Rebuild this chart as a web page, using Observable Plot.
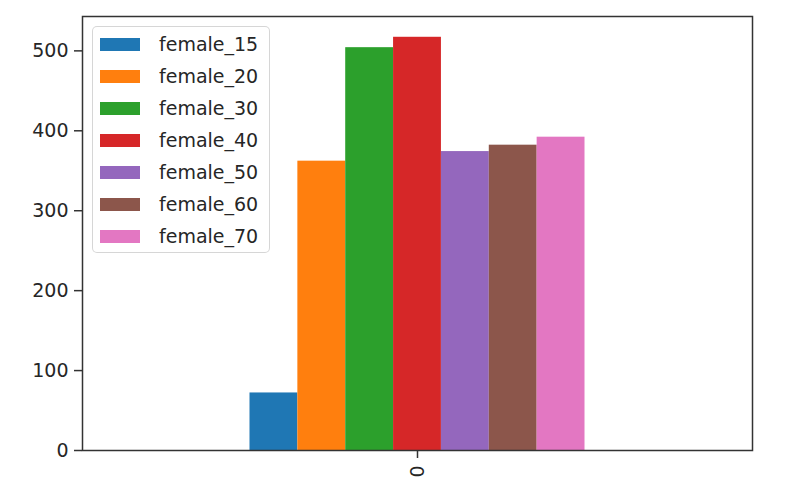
<!DOCTYPE html>
<html>
<head>
<meta charset="utf-8">
<script src="https://cdn.jsdelivr.net/npm/d3@7"></script>
<script src="https://cdn.jsdelivr.net/npm/@observablehq/plot@0.6"></script>
<style>
  html, body { margin: 0; padding: 0; background: #fff; }
  #wrap { position: relative; width: 812px; height: 496px; font-family: "DejaVu Sans", sans-serif; }
  #legend {
    position: absolute; left: 92px; top: 26px; width: 178px; height: 227px;
    border: 1.5px solid rgba(204,204,204,0.8); border-radius: 5px;
    background: rgba(255,255,255,0.8); box-sizing: border-box;
  }
  .row { position: absolute; left: 0; height: 32px; display: flex; align-items: center; }
  .sw { position: absolute; left: 7px; width: 40px; height: 13px; }
  .lab { position: absolute; left: 66px; font-size: 19px; color: #262626; white-space: nowrap; line-height: 1; }
</style>
</head>
<body>
<div id="wrap"></div>
<script>
const categories = ["female_15", "female_20", "female_30", "female_40", "female_50", "female_60", "female_70"];
const values = [72, 362, 504, 517, 374, 382, 392];
const colors = ["#1f77b4", "#ff7f0e", "#2ca02c", "#d62728", "#9467bd", "#8c564b", "#e377c2"];
const yTicks = [0, 100, 200, 300, 400, 500];
const xTicks = [0];

// pandas-style grouped bar layout: total group width 0.5 centred on index 0
const n = categories.length;
const w = 0.5 / n;
const data = categories.map((c, i) => ({
  cat: c,
  value: values[i],
  x1: -0.25 + i * w,
  x2: -0.25 + (i + 1) * w
}));

const chart = Plot.plot({
  width: 812,
  height: 496,
  marginLeft: 82,
  marginRight: 60,
  marginTop: 16,
  marginBottom: 46,
  style: { fontFamily: "DejaVu Sans", fontSize: "19px", color: "#262626", background: "#fff" },
  x: { domain: [-0.5, 0.5] },
  y: { domain: [0, 543] },
  color: { domain: categories, range: colors },
  marks: [
    Plot.rectY(data, { x1: "x1", x2: "x2", y1: 0, y2: "value", fill: "cat" }),
    Plot.frame({ stroke: "#333", strokeWidth: 1.5 }),
    Plot.axisY({ ticks: yTicks, tickSize: 8, tickPadding: 6, label: null, stroke: "#333", strokeWidth: 1.5 }),
    Plot.axisX({ ticks: xTicks, tickFormat: d => String(d), tickRotate: -90, tickSize: 8, tickPadding: 7, label: null, stroke: "#333", strokeWidth: 1.5 })
  ]
});

const wrap = document.getElementById("wrap");
wrap.appendChild(chart);

const legend = document.createElement("div");
legend.id = "legend";
categories.forEach((c, i) => {
  const row = document.createElement("div");
  row.className = "row";
  row.style.top = (i * 32 + 1) + "px";
  const sw = document.createElement("div");
  sw.className = "sw";
  sw.style.background = colors[i];
  const lab = document.createElement("div");
  lab.className = "lab";
  lab.textContent = c;
  row.appendChild(sw);
  row.appendChild(lab);
  legend.appendChild(row);
});
wrap.appendChild(legend);
</script>
</body>
</html>
